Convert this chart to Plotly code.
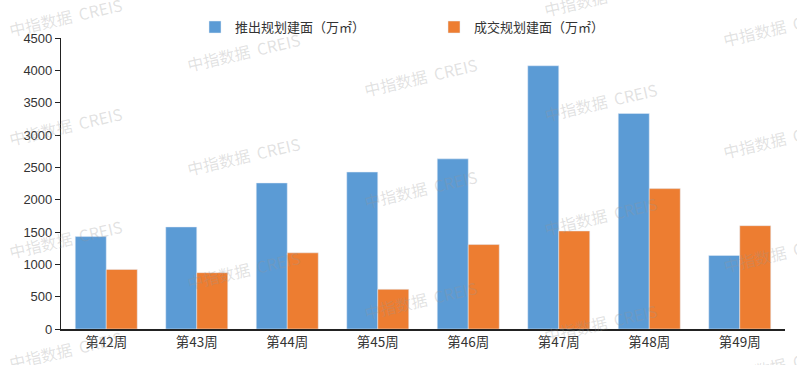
import plotly.graph_objects as go

weeks = ["第42周", "第43周", "第44周", "第45周", "第46周", "第47周", "第48周", "第49周"]
launched = [1429, 1578, 2258, 2427, 2631, 4071, 3333, 1137]
sold = [922, 871, 1178, 614, 1306, 1516, 2171, 1598]
series_names = ["推出规划建面（万㎡）", "成交规划建面（万㎡）"]
y_ticks = [0, 500, 1000, 1500, 2000, 2500, 3000, 3500, 4000, 4500]

W, H = 797, 365
ML, MR, MT, MB = 61, 12, 36, 36
PW, PH = W - ML - MR, H - MT - MB

font_fam = "Arial, Liberation Sans, Noto Sans CJK SC, sans-serif"
cjk_fam = "Noto Sans CJK SC, sans-serif"

fig = go.Figure()
fig.add_trace(go.Bar(x=weeks, y=launched, name=series_names[0], marker_color="#5B9BD5"))
fig.add_trace(go.Bar(x=weeks, y=sold, name=series_names[1], marker_color="#ED7D31"))

# watermark positions (pixel centres)
wm_pos = [(65, 15), (65, 125), (65, 238), (65, 350),
          (243, 50), (243, 155), (243, 270),
          (420, 75), (420, 188), (420, 300),
          (600, -5), (600, 100), (600, 215), (600, 323),
          (779, 25), (779, 138), (779, 252), (779, 365)]
annotations = []
for px, py in wm_pos:
    annotations.append(dict(
        text="中指数据  CREIS", xref="paper", yref="paper",
        x=(px - ML) / PW, y=(H - MB - py) / PH, xanchor="center", yanchor="middle",
        showarrow=False, textangle=-13,
        font=dict(family=cjk_fam, size=16, color="rgba(150,150,150,0.28)")))

fig.update_layout(
    width=W, height=H,
    margin=dict(l=ML, r=MR, t=MT, b=MB),
    paper_bgcolor="white", plot_bgcolor="white",
    barmode="group", bargap=0.315, bargroupgap=0,
    font=dict(family=font_fam, size=12, color="#333333"),
    legend=dict(orientation="h", x=(195 - ML) / PW, xanchor="left", y=(H - MB - 25) / PH, yanchor="middle",
                entrywidth=194, entrywidthmode="pixels",
                font=dict(family=cjk_fam, size=13, color="#333333"),
                bgcolor="rgba(0,0,0,0)"),
    annotations=annotations,
    xaxis=dict(showline=True, linecolor="#222222", linewidth=1.5, ticks="",
               tickfont=dict(family=cjk_fam, size=13.5, color="#333333")),
    yaxis=dict(range=[0, 4500], tickvals=y_ticks, showgrid=False, zeroline=False,
               showline=True, linecolor="#222222", linewidth=1.2, ticks="outside", ticklen=5,
               tickcolor="#222222", tickfont=dict(size=13, color="#333333")),
)

fig.write_html("out.html", config={"displayModeBar": False},
               post_script="document.body.style.margin='0';document.body.style.overflow='hidden';")
